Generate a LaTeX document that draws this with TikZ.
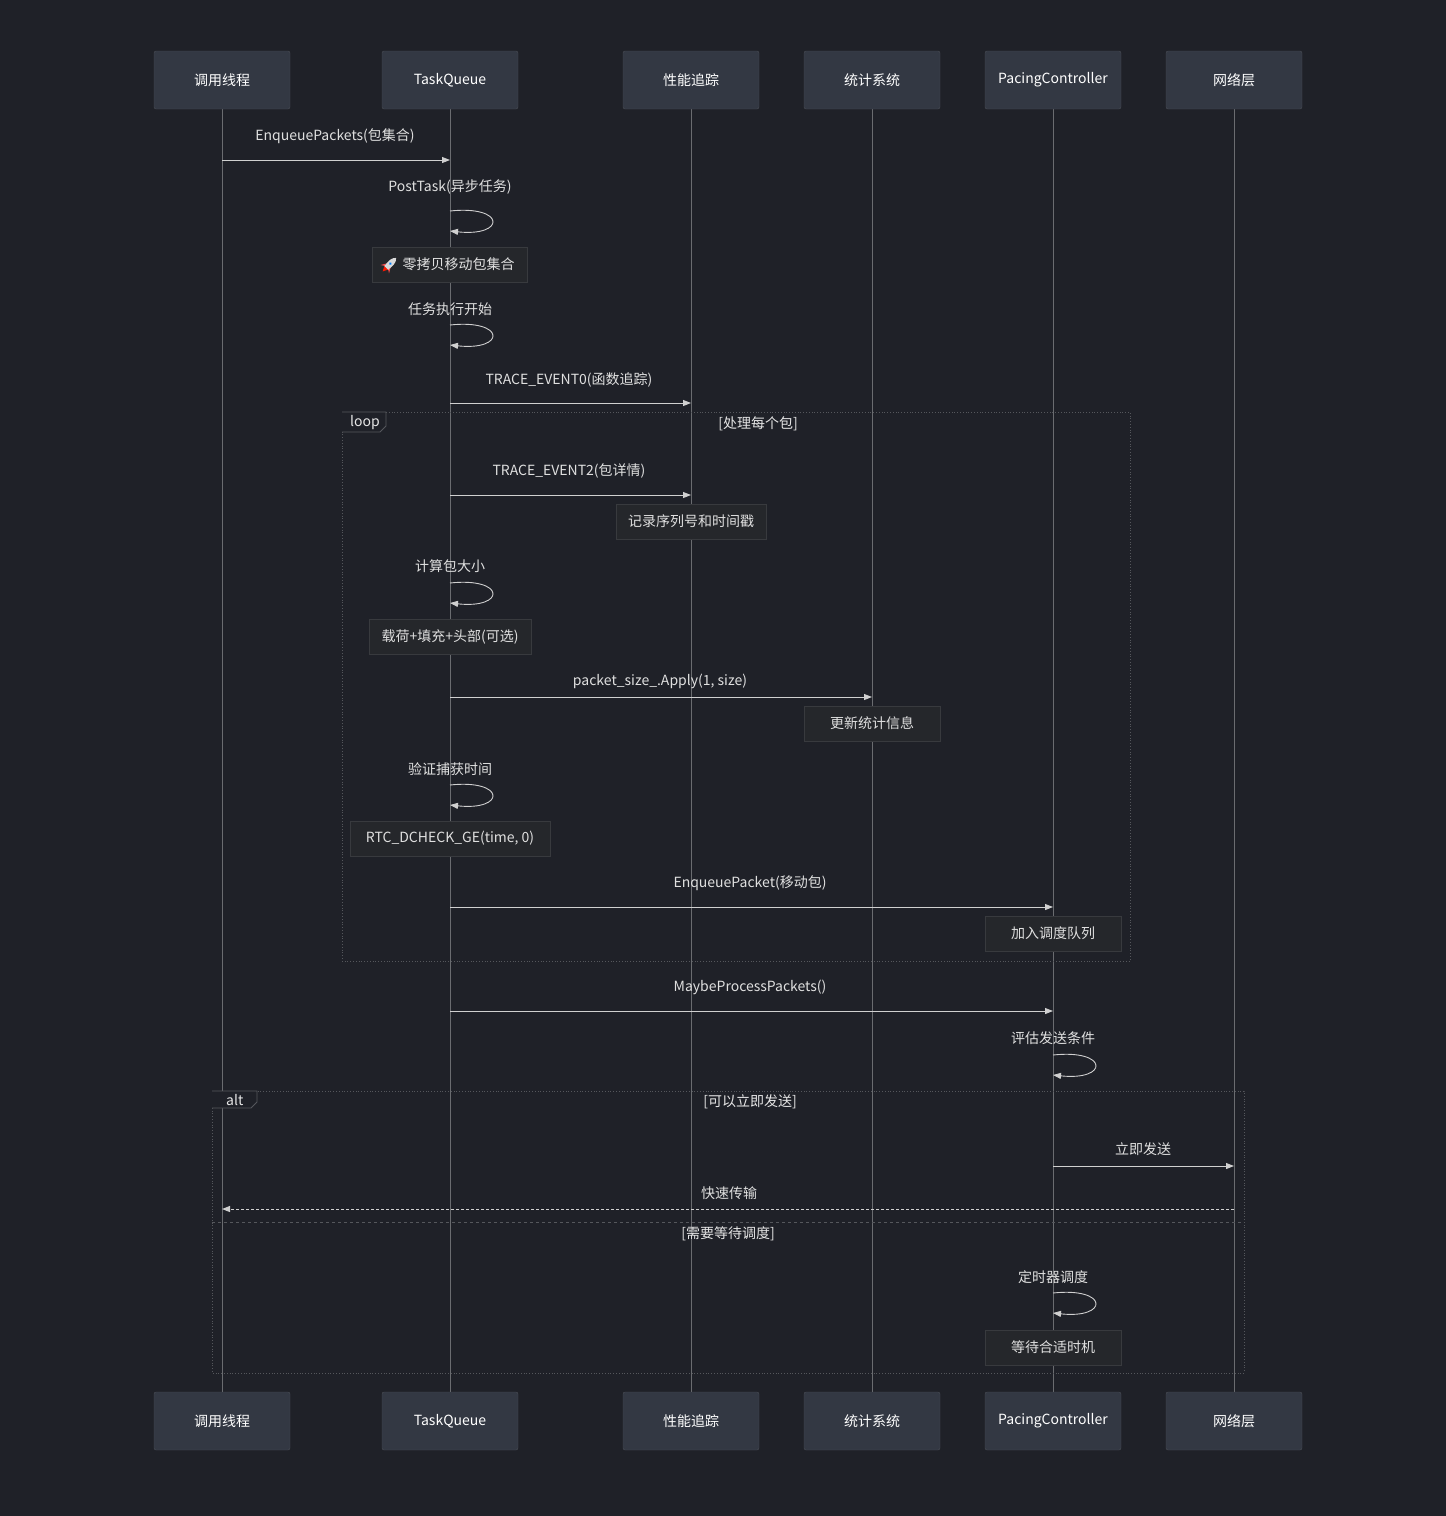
\documentclass[tikz,border=0pt]{standalone}
\usepackage{fontspec}
\setmainfont{Noto Sans CJK SC}
\usetikzlibrary{arrows.meta}
\definecolor{bg}{HTML}{1F2128}
\definecolor{actf}{HTML}{333843}
\definecolor{actd}{HTML}{4A4E56}
\definecolor{life}{HTML}{6A6C70}
\definecolor{msg}{HTML}{D0D0D0}
\definecolor{txt}{HTML}{E0E0E0}
\definecolor{notef}{HTML}{25272B}
\definecolor{noted}{HTML}{383A3E}
\definecolor{frm}{HTML}{55575C}
\tikzset{
 actor/.style={draw=actd,fill=actf,rounded corners=2pt,minimum width=136pt,minimum height=58pt,text=white,font=\fontsize{14}{16}\selectfont,inner sep=0},
 note/.style={draw=noted,fill=notef,minimum height=35pt,text=txt,font=\fontsize{14}{16}\selectfont,inner sep=0},
 lbl/.style={text=txt,font=\fontsize{14}{16}\selectfont,inner sep=1pt},
 flbl/.style={text=txt!80,font=\fontsize{14}{16}\selectfont,inner sep=1pt},
 m/.style={draw=msg,line width=0.9pt,-{Triangle[length=8pt,width=6pt]}},
 frame/.style={draw=frm,dotted,line width=0.8pt},
}
\newcommand{\selfloop}[3]{% x, y top, name
 \coordinate (#3a) at (#1,#2); \coordinate (#3b) at (#1,#2+20);
 \draw[m] (#3a) .. controls (#1+56,#2-6) and (#1+56,#2+26) .. (#3b);}
\begin{document}
\begin{tikzpicture}[x=1pt,y=-1pt]
\fill[bg] (0,0) rectangle (1446,1516);
\useasboundingbox (0,0) rectangle (1446,1516);
% lifelines
\foreach \x/\n/\t in {222/a/调用线程,450/b/TaskQueue,691/c/性能追踪,872/d/统计系统,1053/e/PacingController,1234/f/网络层}{
 \draw[life,line width=1pt] (\x,109) -- (\x,1392);
 \node[actor] (\n top) at (\x,80) {\t};
 \node[actor] (\n bot) at (\x,1421) {\t};
}
% frames
\draw[frame] (342,412) rectangle (1130,961);
\draw[draw=frm,fill=bg,line width=0.8pt] (342,412) -- (386,412) -- (386,426) -- (380,432) -- (342,432);
\node[flbl,anchor=west] (looplbl) at (349,423) {loop};
\node[flbl] (loopc) at (758,424) {[处理每个包]};
\draw[frame] (212,1091) rectangle (1244,1373);
\draw[draw=frm,fill=bg,line width=0.8pt] (212,1091) -- (257,1091) -- (257,1102) -- (251,1108) -- (212,1108);
\node[flbl,anchor=west] (altlbl) at (225,1100) {alt};
\node[flbl] (altc1) at (750,1102) {[可以立即发送]};
\draw[frame,dashed] (212,1222) -- (1244,1222);
\node[flbl] (altc2) at (728,1234) {[需要等待调度]};
% messages
\coordinate (m1s) at (222,160); \coordinate (m1e) at (450,160);
\draw[m] (m1s) -- (m1e); \node[lbl] (l1) at (335,136) {EnqueuePackets(包集合)};
\node[lbl] (l2) at (450,187) {PostTask(异步任务)}; \selfloop{450}{211}{s1}
\node[note,minimum width=155pt] (n1) at (449.5,264.5) {\hspace{18pt}零拷贝移动包集合};
\begin{scope}[shift={(389,265)},rotate=45]
 \fill[red!80!orange] (-9,0) -- (-4,-2.5) -- (-4,2.5) -- cycle;
 \fill[gray!30] (-4,-3) -- (4,-3) .. controls (8,-2) .. (10,0) .. controls (8,2) .. (4,3) -- (-4,3) -- cycle;
 \fill[red!70] (-4,-3) -- (-6,-6) -- (-1,-3) -- cycle;
 \fill[red!70] (-4,3) -- (-6,6) -- (-1,3) -- cycle;
 \fill[blue!50!cyan] (2,0) circle (1.5);
\end{scope}
\node[lbl] (l3) at (450,309) {任务执行开始}; \selfloop{450}{325}{s2}
\coordinate (m4s) at (450,403); \coordinate (m4e) at (691,403);
\draw[m] (m4s) -- (m4e); \node[lbl] (l4) at (569,380) {TRACE\_EVENT0(函数追踪)};
\coordinate (m5s) at (450,495); \coordinate (m5e) at (691,495);
\draw[m] (m5s) -- (m5e); \node[lbl] (l5) at (569,471) {TRACE\_EVENT2(包详情)};
\node[note,minimum width=150pt] (n2) at (691,521.5) {记录序列号和时间戳};
\node[lbl] (l6) at (450,566) {计算包大小}; \selfloop{450}{583}{s3}
\node[note,minimum width=162pt] (n3) at (450,636.5) {载荷+填充+头部(可选)};
\coordinate (m7s) at (450,697); \coordinate (m7e) at (872,697);
\draw[m] (m7s) -- (m7e); \node[lbl] (l7) at (660,681) {packet\_size\_.Apply(1, size)};
\node[note,minimum width=136pt] (n4) at (872,723.5) {更新统计信息};
\node[lbl] (l8) at (450,769) {验证捕获时间}; \selfloop{450}{785}{s4}
\node[note,minimum width=200pt] (n5) at (450,838.5) {RTC\_DCHECK\_GE(time, 0)};
\coordinate (m9s) at (450,907); \coordinate (m9e) at (1053,907);
\draw[m] (m9s) -- (m9e); \node[lbl] (l9) at (750,883) {EnqueuePacket(移动包)};
\node[note,minimum width=136pt] (n6) at (1053,933.5) {加入调度队列};
\coordinate (m10s) at (450,1011); \coordinate (m10e) at (1053,1011);
\draw[m] (m10s) -- (m10e); \node[lbl] (l10) at (750,987) {MaybeProcessPackets()};
\node[lbl] (l11) at (1053,1038) {评估发送条件}; \selfloop{1053}{1055}{s5}
\coordinate (m12s) at (1053,1166); \coordinate (m12e) at (1234,1166);
\draw[m] (m12s) -- (m12e); \node[lbl] (l12) at (1143,1149) {立即发送};
\coordinate (m13s) at (1234,1209); \coordinate (m13e) at (222,1209);
\draw[m,dash pattern=on 3pt off 2pt] (m13s) -- (m13e); \node[lbl] (l13) at (729,1193) {快速传输};
\node[lbl] (l14) at (1053,1277) {定时器调度}; \selfloop{1053}{1293}{s6}
\node[note,minimum width=136pt] (n7) at (1053,1347.5) {等待合适时机};
\end{tikzpicture}
\end{document}
